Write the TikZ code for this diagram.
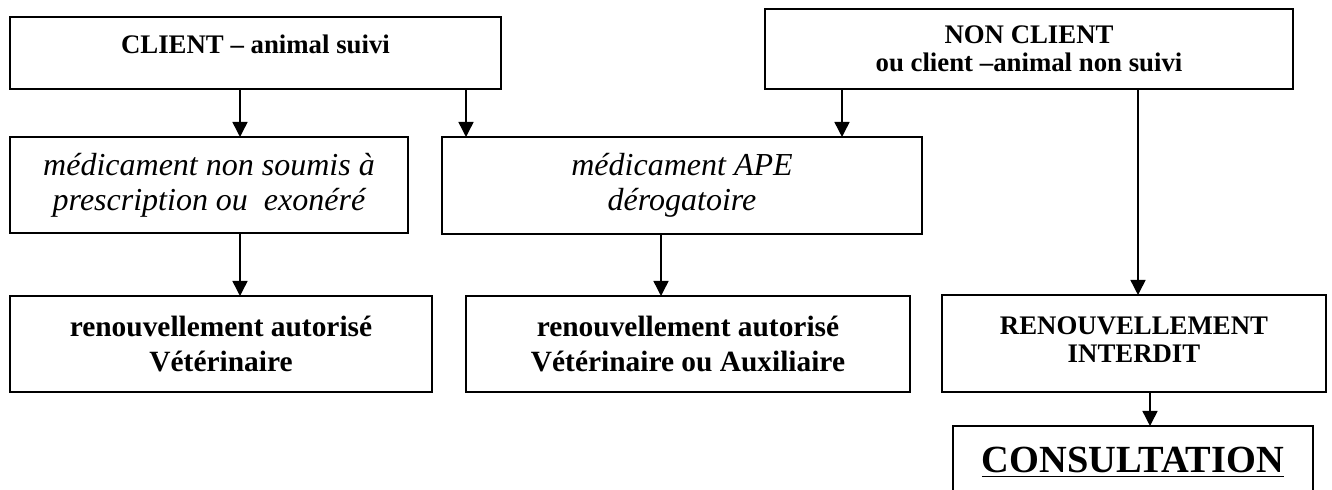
\documentclass[tikz,border=0pt]{standalone}
\usepackage{fontspec}
\setmainfont{Liberation Serif}
\usetikzlibrary{arrows.meta}

\tikzset{
	box/.style={draw, rectangle, line width=1pt, align=center, inner sep=0pt},
	flow/.style={-{Triangle[length=7.5pt, width=7.5pt]}, line width=0.75pt},
	head/.style={font=\fontsize{13.4}{14}\bfseries},
	med/.style={font=\fontsize{16}{17.5}\itshape},
	res/.style={font=\fontsize{14.7}{17.5}\bfseries}
}

\begin{document}
\begin{tikzpicture}[x=0.5pt, y=-0.5pt]
	\useasboundingbox (0,0) rectangle (1332,490);
	\clip (0,0) rectangle (1332,490);

	\node[box, head, minimum width=245.5pt, minimum height=36pt, text height=10pt, text depth=9pt] (client) at (255.5,53) {CLIENT – animal suivi};
	\node[box, head, minimum width=264pt, minimum height=40pt] (nonclient) at (1029,49) {NON CLIENT\\ou client –animal non suivi};
	\node[box, med, minimum width=199pt, minimum height=48pt] (medic) at (209,185) {médicament non soumis à\\prescription ou~ exonéré};
	\node[box, med, minimum width=240pt, minimum height=48.5pt] (ape) at (682,185.5) {médicament APE\\dérogatoire};
	\node[box, res, minimum width=211pt, minimum height=48pt] (renvet) at (221,344) {renouvellement autorisé\\Vétérinaire};
	\node[box, res, minimum width=222pt, minimum height=48pt] (renaux) at (688,344) {renouvellement autorisé\\Vétérinaire ou Auxiliaire};
	\node[box, head, minimum width=192pt, minimum height=48.5pt, text depth=4pt] (interdit) at (1134,343.5) {RENOUVELLEMENT\\INTERDIT};
	\node[box, font=\fontsize{19.2}{24}\bfseries, minimum width=180pt, minimum height=47pt, text height=14pt, text depth=14pt] (consult) at (1133,473) {\underline{CONSULTATION}};

	\coordinate (a1) at (240,137);
	\coordinate (a2) at (466,137);
	\coordinate (a3) at (842,137);
	\coordinate (a4) at (1138,295);
	\coordinate (a5) at (240,296);
	\coordinate (a6) at (661,296);
	\coordinate (a7) at (1150,426);

	\draw[flow] (client.south -| a1) -- (a1);
	\draw[flow] (client.south -| a2) -- (a2);
	\draw[flow] (nonclient.south -| a3) -- (a3);
	\draw[flow] (nonclient.south -| a4) -- (a4);
	\draw[flow] (medic.south -| a5) -- (a5);
	\draw[flow] (ape.south -| a6) -- (a6);
	\draw[flow] (interdit.south -| a7) -- (a7);
\end{tikzpicture}
\end{document}
